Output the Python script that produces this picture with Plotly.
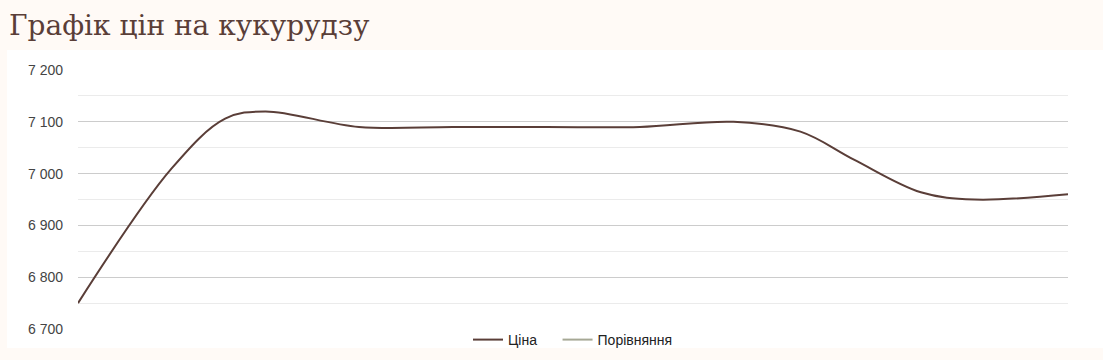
import plotly.graph_objects as go
import pandas as pd

# ---- data ----
start_date = "2023-09-01"
day_offsets = [0, 7, 11, 14, 21, 28, 35, 42, 49, 54, 58, 63, 67, 74]
price_values = [6750, 7010, 7106, 7120, 7090, 7090, 7090, 7090, 7100, 7081, 7027, 6964, 6950, 6960]
series_names = ["Ціна", "Порівняння"]
title_text = "Графік цін на кукурудзу"
y_ticks = [6700, 6800, 6900, 7000, 7100, 7200]

dates = pd.to_datetime(start_date) + pd.to_timedelta(day_offsets, unit="D")

PRICE_COLOR = "#5a3e38"
COMPARE_COLOR = "#a6a895"
PAGE_BG = "#fffaf6"

fig = go.Figure()
fig.add_trace(go.Scatter(
    x=dates, y=price_values, mode="lines", name=series_names[0] + "\u00a0" * 4,
    line=dict(color=PRICE_COLOR, width=2, shape="spline", smoothing=1.0),
))
fig.add_trace(go.Scatter(
    x=[None], y=[None], mode="lines", name=series_names[1],
    line=dict(color=COMPARE_COLOR, width=2),
))

# plot area: x 78..1068, y 70..329
L, R, T, B = 78, 35, 70, 31
W, H = 1103, 360
pw, ph = W - L - R, H - T - B

def px_x(px):
    return (px - L) / pw

def px_y(py):
    return 1 - (py - T) / ph

fig.add_shape(type="rect", xref="paper", yref="paper",
              x0=px_x(7), x1=px_x(1110), y0=px_y(348), y1=px_y(50),
              fillcolor="white", line=dict(width=0), layer="below")

fig.add_annotation(text=title_text, xref="paper", yref="paper",
                   x=px_x(7), y=px_y(26), xanchor="left", yanchor="middle",
                   showarrow=False,
                   font=dict(family="DejaVu Serif", size=28, color=PRICE_COLOR))

fig.update_layout(
    width=W, height=H,
    margin=dict(l=L, r=R, t=T, b=B, pad=0, autoexpand=False),
    paper_bgcolor=PAGE_BG,
    plot_bgcolor="rgba(0,0,0,0)",
    separators=", ",
    showlegend=True,
    legend=dict(orientation="h", x=0.5, xanchor="center",
                y=px_y(340), yanchor="middle",
                font=dict(family="Liberation Sans, Arial", size=14, color="#222222"),
                bgcolor="rgba(0,0,0,0)", itemwidth=30),
    xaxis=dict(range=[dates[0], dates[-1]], showgrid=False, zeroline=False,
               showticklabels=False, showline=False, ticks=""),
    yaxis=dict(range=[6700, 7200], tickvals=y_ticks, tickformat=",d",
               showgrid=True, gridcolor="#cccccc", gridwidth=1,
               zeroline=False, showline=False, ticks="",
               ticklabelstandoff=14,
               tickfont=dict(family="Liberation Sans, Arial", size=14, color="#444444"),
               minor=dict(dtick=50, tick0=6700, showgrid=True,
                          gridcolor="#ebebeb", gridwidth=1, ticks="")),
    hovermode=False,
)

fig.write_html("out.html")
